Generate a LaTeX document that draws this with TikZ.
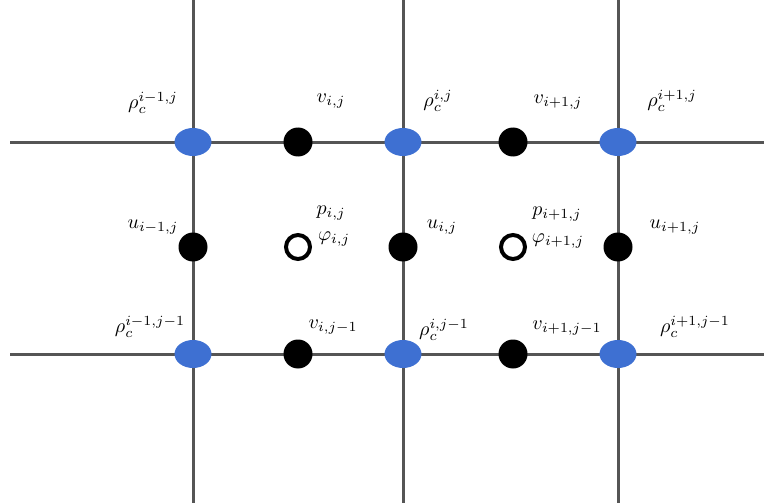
\documentclass[tikz,border=0pt]{standalone}
\usepackage{graphicx}
\usetikzlibrary{shapes.geometric}
\definecolor{dotblue}{RGB}{62,112,210}
\definecolor{linegray}{RGB}{85,85,85}
\newcommand{\lb}[1]{\scalebox{2.0}{$#1$}}
\begin{document}
\begin{tikzpicture}[x=1pt,y=-1pt,
  gridline/.style={draw=linegray,line width=3pt},
  bluedot/.style={ellipse,minimum width=37pt,minimum height=28pt,inner sep=0pt,fill=dotblue,draw=none},
  blackdot/.style={circle,minimum size=29pt,inner sep=0pt,fill=black},
  opendot/.style={circle,minimum size=24pt,inner sep=0pt,fill=white,draw=black,line width=4pt},
  lbl/.style={inner sep=0pt}]
\useasboundingbox (0,0) rectangle (764,503);
% grid lines
\coordinate (h1a) at (10,142); \coordinate (h1b) at (764,142);
\coordinate (h2a) at (10,354); \coordinate (h2b) at (764,354);
\coordinate (v1a) at (193,0); \coordinate (v1b) at (193,503);
\coordinate (v2a) at (403,0); \coordinate (v2b) at (403,503);
\coordinate (v3a) at (618,0); \coordinate (v3b) at (618,503);
\draw[gridline] (h1a) -- (h1b);
\draw[gridline] (h2a) -- (h2b);
\draw[gridline] (v1a) -- (v1b);
\draw[gridline] (v2a) -- (v2b);
\draw[gridline] (v3a) -- (v3b);
% dots
\node[bluedot] (r11) at (193,142) {};
\node[bluedot] (r21) at (403,142) {};
\node[bluedot] (r31) at (618,142) {};
\node[bluedot] (r12) at (193,354) {};
\node[bluedot] (r22) at (403,354) {};
\node[bluedot] (r32) at (618,354) {};
\node[blackdot] (v1) at (298,142) {};
\node[blackdot] (v2) at (513,142) {};
\node[blackdot] (v3) at (298,354) {};
\node[blackdot] (v4) at (513,354) {};
\node[blackdot] (u1) at (193,247) {};
\node[blackdot] (u2) at (403,247) {};
\node[blackdot] (u3) at (618,247) {};
\node[opendot] (p1) at (298,247) {};
\node[opendot] (p2) at (513,247) {};
% labels
\node[lbl] (lr11) at (153,103) {\lb{\rho_c^{i-1,j}}};
\node[lbl] (lv1) at (331,101) {\lb{v_{i,j}}};
\node[lbl] (lr21) at (438,101) {\lb{\rho_c^{i,j}}};
\node[lbl] (lv2) at (558,102) {\lb{v_{i+1,j}}};
\node[lbl] (lr31) at (672,101) {\lb{\rho_c^{i+1,j}}};
\node[lbl] (lu1) at (153,227) {\lb{u_{i-1,j}}};
\node[lbl] (lp1) at (331,213) {\lb{p_{i,j}}};
\node[lbl] (lf1) at (334,239) {\lb{\varphi_{i,j}}};
\node[lbl] (lu2) at (442,227) {\lb{u_{i,j}}};
\node[lbl] (lp2) at (557,214) {\lb{p_{i+1,j}}};
\node[lbl] (lf2) at (558,241) {\lb{\varphi_{i+1,j}}};
\node[lbl] (lu3) at (675,227) {\lb{u_{i+1,j}}};
\node[lbl] (lr12) at (150,327) {\lb{\rho_c^{i-1,j-1}}};
\node[lbl] (lv3) at (333,327) {\lb{v_{i,j-1}}};
\node[lbl] (lr22) at (444,330) {\lb{\rho_c^{i,j-1}}};
\node[lbl] (lv4) at (567,328) {\lb{v_{i+1,j-1}}};
\node[lbl] (lr32) at (695,327) {\lb{\rho_c^{i+1,j-1}}};
\end{tikzpicture}
\end{document}
